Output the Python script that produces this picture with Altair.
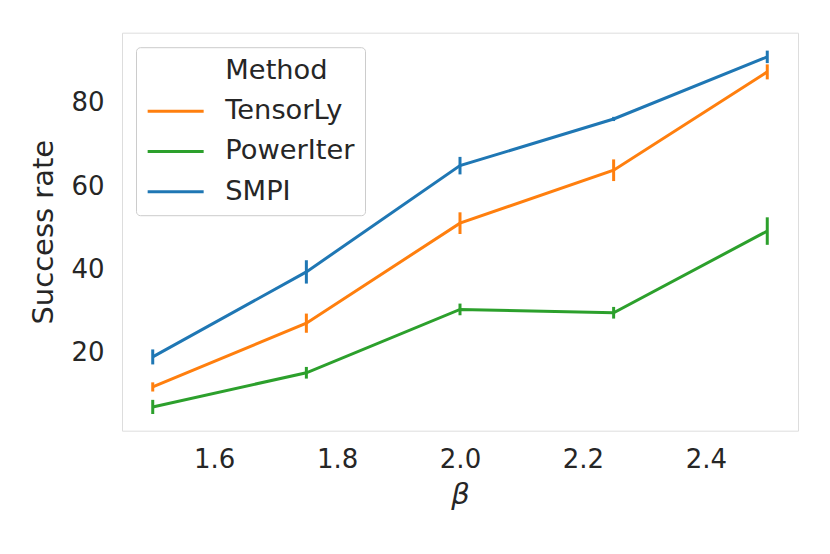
import altair as alt
import pandas as pd

beta = [1.5, 1.75, 2.0, 2.25, 2.5]
methods = ["TensorLy", "PowerIter", "SMPI"]
tensorly_mean = [11.8, 27.1, 51.1, 63.8, 87.4]
tensorly_err = [1.1, 2.3, 2.6, 2.6, 1.8]
poweriter_mean = [7.0, 15.2, 30.4, 29.6, 49.2]
poweriter_err = [1.7, 1.4, 1.4, 1.4, 3.3]
smpi_mean = [19.0, 39.4, 64.9, 76.1, 91.0]
smpi_err = [1.8, 2.8, 2.1, 0.5, 1.5]

x_ticks = [1.6, 1.8, 2.0, 2.2, 2.4]
y_ticks = [20, 40, 60, 80]
colors = ["#ff7f0e", "#2ca02c", "#1f77b4"]

rows = []
for m, means, errs in zip(methods, [tensorly_mean, poweriter_mean, smpi_mean],
                          [tensorly_err, poweriter_err, smpi_err]):
    for b, v, e in zip(beta, means, errs):
        rows.append({"beta": b, "Method": m, "rate": v, "lo": v - e, "hi": v + e})
df = pd.DataFrame(rows)

FONT = "DejaVu Sans"
TXT = "#262626"

color = alt.Color(
    "Method:N",
    scale=alt.Scale(domain=["Method"] + methods, range=["rgba(0,0,0,0)"] + colors),
    legend=alt.Legend(
        title=None, orient="none", legendX=14, legendY=14.5,
        padding=10, fillColor="white", strokeColor="#cccccc", cornerRadius=4,
        labelFont=FONT, labelFontSize=27.3, labelColor=TXT, labelLimit=400,
        symbolType="M-2.8,0H2.8", symbolSize=400, symbolStrokeWidth=3,
        symbolOffset=16, labelOffset=36, rowPadding=12.3,
    ),
)

xenc = alt.X("beta:Q", scale=alt.Scale(domain=[1.45, 2.55], nice=False, zero=False),
             axis=alt.Axis(values=x_ticks, format=".1f", title="β", grid=False, ticks=False,
                           domain=False, labelFont=FONT, labelFontSize=26, labelColor=TXT,
                           labelPadding=16, titleFont=FONT, titleFontSize=29,
                           titleFontStyle="italic", titleFontWeight="normal",
                           titleColor=TXT, titlePadding=8))
yenc = alt.Y("rate:Q", scale=alt.Scale(domain=[1.3, 96.8], nice=False, zero=False),
             axis=alt.Axis(values=y_ticks, title="Success rate", grid=False, ticks=False,
                           domain=False, labelFont=FONT, labelFontSize=26, labelColor=TXT,
                           labelPadding=18, titleFont=FONT, titleFontSize=29,
                           titleFontWeight="normal", titleColor=TXT, titlePadding=12))

lines = alt.Chart(df).mark_line(strokeWidth=3).encode(x=xenc, y=yenc, color=color)
bars = alt.Chart(df).mark_rule(strokeWidth=3).encode(
    x="beta:Q", y="lo:Q", y2="hi:Q",
    color=alt.Color("Method:N", legend=None),
)

chart = (
    alt.layer(lines, bars)
    .properties(width=676, height=398,
                autosize=alt.AutoSizeParams(type="none"),
                padding={"left": 114, "top": 24.7, "right": 24, "bottom": 115})
    .configure_view(stroke="#cccccc", strokeWidth=2.5)
    .configure(background="white")
)
chart.save("out.html", embed_options={"renderer": "svg", "actions": False})
